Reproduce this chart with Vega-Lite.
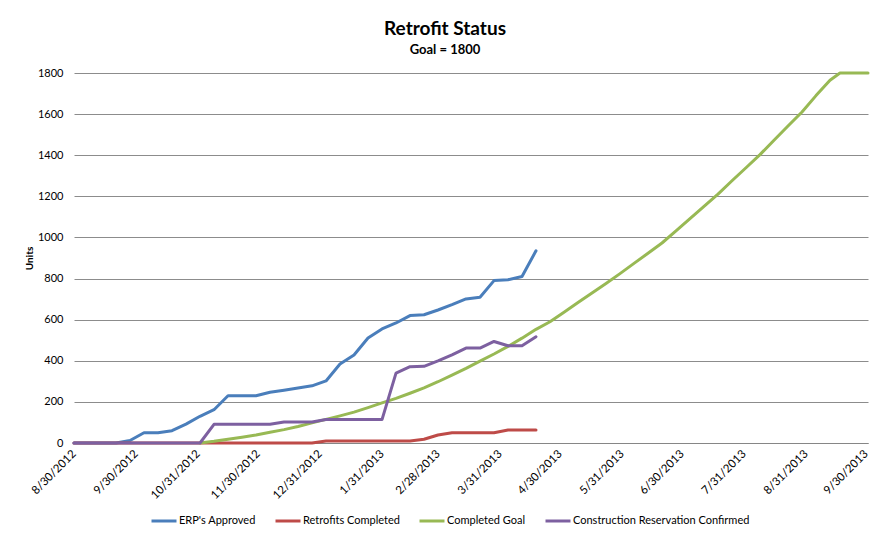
{
  "$schema": "https://vega.github.io/schema/vega-lite/v6.json",
  "width": 794,
  "height": 370,
  "autosize": {"type": "none"},
  "padding": {"left": 74, "top": 73, "right": 10, "bottom": 91},
  "background": "white",
  "title": {
    "text": "Retrofit Status",
    "subtitle": "Goal = 1800",
    "font": "Lato",
    "subtitleFont": "Lato",
    "fontSize": 19,
    "fontWeight": "bold",
    "subtitleFontSize": 13,
    "subtitleFontWeight": "bold",
    "color": "black",
    "subtitleColor": "black",
    "anchor": "middle",
    "frame": "group",
    "dx": -26,
    "offset": 10,
    "subtitlePadding": 5
  },
  "config": {
    "view": {"stroke": null},
    "font": "Lato"
  },
  "data": {
    "values": [
      {"d": "2012-08-30", "s": "ERP's Approved", "v": 0},
      {"d": "2012-09-06", "s": "ERP's Approved", "v": 0},
      {"d": "2012-09-13", "s": "ERP's Approved", "v": 0},
      {"d": "2012-09-20", "s": "ERP's Approved", "v": 0},
      {"d": "2012-09-27", "s": "ERP's Approved", "v": 12},
      {"d": "2012-10-04", "s": "ERP's Approved", "v": 50},
      {"d": "2012-10-11", "s": "ERP's Approved", "v": 50},
      {"d": "2012-10-18", "s": "ERP's Approved", "v": 60},
      {"d": "2012-10-25", "s": "ERP's Approved", "v": 92},
      {"d": "2012-11-01", "s": "ERP's Approved", "v": 130},
      {"d": "2012-11-08", "s": "ERP's Approved", "v": 162},
      {"d": "2012-11-15", "s": "ERP's Approved", "v": 230},
      {"d": "2012-11-22", "s": "ERP's Approved", "v": 230},
      {"d": "2012-11-29", "s": "ERP's Approved", "v": 230},
      {"d": "2012-12-06", "s": "ERP's Approved", "v": 247},
      {"d": "2012-12-13", "s": "ERP's Approved", "v": 257},
      {"d": "2012-12-20", "s": "ERP's Approved", "v": 268},
      {"d": "2012-12-27", "s": "ERP's Approved", "v": 278},
      {"d": "2013-01-03", "s": "ERP's Approved", "v": 302},
      {"d": "2013-01-10", "s": "ERP's Approved", "v": 384},
      {"d": "2013-01-17", "s": "ERP's Approved", "v": 428},
      {"d": "2013-01-24", "s": "ERP's Approved", "v": 511},
      {"d": "2013-01-31", "s": "ERP's Approved", "v": 555},
      {"d": "2013-02-07", "s": "ERP's Approved", "v": 584},
      {"d": "2013-02-14", "s": "ERP's Approved", "v": 620},
      {"d": "2013-02-21", "s": "ERP's Approved", "v": 624},
      {"d": "2013-02-28", "s": "ERP's Approved", "v": 647},
      {"d": "2013-03-07", "s": "ERP's Approved", "v": 673},
      {"d": "2013-03-14", "s": "ERP's Approved", "v": 701},
      {"d": "2013-03-21", "s": "ERP's Approved", "v": 709},
      {"d": "2013-03-28", "s": "ERP's Approved", "v": 790},
      {"d": "2013-04-04", "s": "ERP's Approved", "v": 794},
      {"d": "2013-04-11", "s": "ERP's Approved", "v": 810},
      {"d": "2013-04-18", "s": "ERP's Approved", "v": 935},

      {"d": "2012-08-30", "s": "Retrofits Completed", "v": 0},
      {"d": "2012-09-06", "s": "Retrofits Completed", "v": 0},
      {"d": "2012-09-13", "s": "Retrofits Completed", "v": 0},
      {"d": "2012-09-20", "s": "Retrofits Completed", "v": 0},
      {"d": "2012-09-27", "s": "Retrofits Completed", "v": 0},
      {"d": "2012-10-04", "s": "Retrofits Completed", "v": 0},
      {"d": "2012-10-11", "s": "Retrofits Completed", "v": 0},
      {"d": "2012-10-18", "s": "Retrofits Completed", "v": 0},
      {"d": "2012-10-25", "s": "Retrofits Completed", "v": 0},
      {"d": "2012-11-01", "s": "Retrofits Completed", "v": 0},
      {"d": "2012-11-08", "s": "Retrofits Completed", "v": 0},
      {"d": "2012-11-15", "s": "Retrofits Completed", "v": 0},
      {"d": "2012-11-22", "s": "Retrofits Completed", "v": 0},
      {"d": "2012-11-29", "s": "Retrofits Completed", "v": 0},
      {"d": "2012-12-06", "s": "Retrofits Completed", "v": 0},
      {"d": "2012-12-13", "s": "Retrofits Completed", "v": 0},
      {"d": "2012-12-20", "s": "Retrofits Completed", "v": 0},
      {"d": "2012-12-27", "s": "Retrofits Completed", "v": 0},
      {"d": "2013-01-03", "s": "Retrofits Completed", "v": 10},
      {"d": "2013-01-10", "s": "Retrofits Completed", "v": 10},
      {"d": "2013-01-17", "s": "Retrofits Completed", "v": 10},
      {"d": "2013-01-24", "s": "Retrofits Completed", "v": 10},
      {"d": "2013-01-31", "s": "Retrofits Completed", "v": 10},
      {"d": "2013-02-07", "s": "Retrofits Completed", "v": 10},
      {"d": "2013-02-14", "s": "Retrofits Completed", "v": 10},
      {"d": "2013-02-21", "s": "Retrofits Completed", "v": 18},
      {"d": "2013-02-28", "s": "Retrofits Completed", "v": 39},
      {"d": "2013-03-07", "s": "Retrofits Completed", "v": 50},
      {"d": "2013-03-14", "s": "Retrofits Completed", "v": 50},
      {"d": "2013-03-21", "s": "Retrofits Completed", "v": 50},
      {"d": "2013-03-28", "s": "Retrofits Completed", "v": 50},
      {"d": "2013-04-04", "s": "Retrofits Completed", "v": 63},
      {"d": "2013-04-11", "s": "Retrofits Completed", "v": 63},
      {"d": "2013-04-18", "s": "Retrofits Completed", "v": 63},

      {"d": "2012-11-01", "s": "Completed Goal", "v": 0},
      {"d": "2012-11-08", "s": "Completed Goal", "v": 8},
      {"d": "2012-11-15", "s": "Completed Goal", "v": 18},
      {"d": "2012-11-22", "s": "Completed Goal", "v": 28},
      {"d": "2012-11-29", "s": "Completed Goal", "v": 39},
      {"d": "2012-12-06", "s": "Completed Goal", "v": 52},
      {"d": "2012-12-13", "s": "Completed Goal", "v": 65},
      {"d": "2012-12-20", "s": "Completed Goal", "v": 80},
      {"d": "2012-12-27", "s": "Completed Goal", "v": 98},
      {"d": "2013-01-03", "s": "Completed Goal", "v": 115},
      {"d": "2013-01-10", "s": "Completed Goal", "v": 132},
      {"d": "2013-01-17", "s": "Completed Goal", "v": 150},
      {"d": "2013-01-24", "s": "Completed Goal", "v": 172},
      {"d": "2013-01-31", "s": "Completed Goal", "v": 195},
      {"d": "2013-02-07", "s": "Completed Goal", "v": 217},
      {"d": "2013-02-14", "s": "Completed Goal", "v": 242},
      {"d": "2013-02-21", "s": "Completed Goal", "v": 268},
      {"d": "2013-02-28", "s": "Completed Goal", "v": 298},
      {"d": "2013-03-07", "s": "Completed Goal", "v": 330},
      {"d": "2013-03-14", "s": "Completed Goal", "v": 363},
      {"d": "2013-03-21", "s": "Completed Goal", "v": 398},
      {"d": "2013-03-28", "s": "Completed Goal", "v": 433},
      {"d": "2013-04-04", "s": "Completed Goal", "v": 470},
      {"d": "2013-04-11", "s": "Completed Goal", "v": 510},
      {"d": "2013-04-18", "s": "Completed Goal", "v": 553},
      {"d": "2013-04-25", "s": "Completed Goal", "v": 590},
      {"d": "2013-05-02", "s": "Completed Goal", "v": 636},
      {"d": "2013-05-09", "s": "Completed Goal", "v": 683},
      {"d": "2013-05-16", "s": "Completed Goal", "v": 730},
      {"d": "2013-05-23", "s": "Completed Goal", "v": 776},
      {"d": "2013-05-30", "s": "Completed Goal", "v": 824},
      {"d": "2013-06-06", "s": "Completed Goal", "v": 874},
      {"d": "2013-06-13", "s": "Completed Goal", "v": 923},
      {"d": "2013-06-20", "s": "Completed Goal", "v": 973},
      {"d": "2013-06-27", "s": "Completed Goal", "v": 1032},
      {"d": "2013-07-04", "s": "Completed Goal", "v": 1092},
      {"d": "2013-07-11", "s": "Completed Goal", "v": 1151},
      {"d": "2013-07-18", "s": "Completed Goal", "v": 1211},
      {"d": "2013-07-25", "s": "Completed Goal", "v": 1276},
      {"d": "2013-08-01", "s": "Completed Goal", "v": 1339},
      {"d": "2013-08-08", "s": "Completed Goal", "v": 1403},
      {"d": "2013-08-15", "s": "Completed Goal", "v": 1473},
      {"d": "2013-08-22", "s": "Completed Goal", "v": 1542},
      {"d": "2013-08-29", "s": "Completed Goal", "v": 1610},
      {"d": "2013-09-05", "s": "Completed Goal", "v": 1690},
      {"d": "2013-09-12", "s": "Completed Goal", "v": 1765},
      {"d": "2013-09-17", "s": "Completed Goal", "v": 1800},
      {"d": "2013-09-24", "s": "Completed Goal", "v": 1800},
      {"d": "2013-10-01", "s": "Completed Goal", "v": 1800},

      {"d": "2012-08-30", "s": "Construction Reservation Confirmed", "v": 0},
      {"d": "2012-09-06", "s": "Construction Reservation Confirmed", "v": 0},
      {"d": "2012-09-13", "s": "Construction Reservation Confirmed", "v": 0},
      {"d": "2012-09-20", "s": "Construction Reservation Confirmed", "v": 0},
      {"d": "2012-09-27", "s": "Construction Reservation Confirmed", "v": 0},
      {"d": "2012-10-04", "s": "Construction Reservation Confirmed", "v": 0},
      {"d": "2012-10-11", "s": "Construction Reservation Confirmed", "v": 0},
      {"d": "2012-10-18", "s": "Construction Reservation Confirmed", "v": 0},
      {"d": "2012-10-25", "s": "Construction Reservation Confirmed", "v": 0},
      {"d": "2012-11-01", "s": "Construction Reservation Confirmed", "v": 0},
      {"d": "2012-11-08", "s": "Construction Reservation Confirmed", "v": 91},
      {"d": "2012-11-15", "s": "Construction Reservation Confirmed", "v": 91},
      {"d": "2012-11-22", "s": "Construction Reservation Confirmed", "v": 91},
      {"d": "2012-11-29", "s": "Construction Reservation Confirmed", "v": 91},
      {"d": "2012-12-06", "s": "Construction Reservation Confirmed", "v": 91},
      {"d": "2012-12-13", "s": "Construction Reservation Confirmed", "v": 102},
      {"d": "2012-12-20", "s": "Construction Reservation Confirmed", "v": 102},
      {"d": "2012-12-27", "s": "Construction Reservation Confirmed", "v": 102},
      {"d": "2013-01-03", "s": "Construction Reservation Confirmed", "v": 114},
      {"d": "2013-01-10", "s": "Construction Reservation Confirmed", "v": 114},
      {"d": "2013-01-17", "s": "Construction Reservation Confirmed", "v": 114},
      {"d": "2013-01-24", "s": "Construction Reservation Confirmed", "v": 114},
      {"d": "2013-01-31", "s": "Construction Reservation Confirmed", "v": 114},
      {"d": "2013-02-07", "s": "Construction Reservation Confirmed", "v": 340},
      {"d": "2013-02-14", "s": "Construction Reservation Confirmed", "v": 371},
      {"d": "2013-02-21", "s": "Construction Reservation Confirmed", "v": 373},
      {"d": "2013-02-28", "s": "Construction Reservation Confirmed", "v": 400},
      {"d": "2013-03-07", "s": "Construction Reservation Confirmed", "v": 429},
      {"d": "2013-03-14", "s": "Construction Reservation Confirmed", "v": 462},
      {"d": "2013-03-21", "s": "Construction Reservation Confirmed", "v": 462},
      {"d": "2013-03-28", "s": "Construction Reservation Confirmed", "v": 494},
      {"d": "2013-04-04", "s": "Construction Reservation Confirmed", "v": 473},
      {"d": "2013-04-11", "s": "Construction Reservation Confirmed", "v": 473},
      {"d": "2013-04-18", "s": "Construction Reservation Confirmed", "v": 517}
    ]
  },
  "mark": {"type": "line", "strokeWidth": 3, "strokeJoin": "round", "strokeCap": "round"},
  "encoding": {
    "x": {
      "field": "d",
      "type": "temporal",
      "scale": {
        "type": "utc",
        "domain": [
          {"year": 2012, "month": 8, "date": 30, "utc": true},
          {"year": 2013, "month": 10, "date": 1, "utc": true}
        ]
      },
      "axis": {
        "title": null,
        "values": [
          {"year": 2012, "month": 8, "date": 30, "utc": true},
          {"year": 2012, "month": 9, "date": 30, "utc": true},
          {"year": 2012, "month": 10, "date": 31, "utc": true},
          {"year": 2012, "month": 11, "date": 30, "utc": true},
          {"year": 2012, "month": 12, "date": 31, "utc": true},
          {"year": 2013, "month": 1, "date": 31, "utc": true},
          {"year": 2013, "month": 2, "date": 28, "utc": true},
          {"year": 2013, "month": 3, "date": 31, "utc": true},
          {"year": 2013, "month": 4, "date": 30, "utc": true},
          {"year": 2013, "month": 5, "date": 31, "utc": true},
          {"year": 2013, "month": 6, "date": 30, "utc": true},
          {"year": 2013, "month": 7, "date": 31, "utc": true},
          {"year": 2013, "month": 8, "date": 31, "utc": true},
          {"year": 2013, "month": 9, "date": 30, "utc": true}
        ],
        "labelExpr": "utcFormat(datum.value, '%-m/%-d/%Y')",
        "labelAngle": -45,
        "labelAlign": "right",
        "labelBaseline": "middle",
        "labelFont": "Lato",
        "labelFontSize": 11.5,
        "labelColor": "black",
        "labelPadding": 9,
        "labelOverlap": false,
        "labelBound": false,
        "labelFlush": false,
        "grid": false,
        "ticks": false,
        "domainColor": "#868686",
        "domainWidth": 1
      }
    },
    "y": {
      "field": "v",
      "type": "quantitative",
      "scale": {"domain": [0, 1800], "nice": false},
      "axis": {
        "title": "Units",
        "titleFont": "Lato",
        "titleFontSize": 10,
        "titleFontWeight": "bold",
        "titleColor": "black",
        "titlePadding": 3,
        "format": "d",
        "values": [0, 200, 400, 600, 800, 1000, 1200, 1400, 1600, 1800],
        "labelFont": "Lato",
        "labelFontSize": 11,
        "labelColor": "black",
        "labelPadding": 11,
        "domain": false,
        "ticks": false,
        "grid": true,
        "gridColor": "#8c8c8c",
        "gridWidth": 1
      }
    },
    "color": {
      "field": "s",
      "type": "nominal",
      "sort": null,
      "scale": {
        "domain": ["ERP's Approved", "Retrofits Completed", "Completed Goal", "Construction Reservation Confirmed"],
        "range": ["#4A7EBB", "#BE4B48", "#98B954", "#7D60A0"]
      },
      "legend": {
        "title": null,
        "orient": "none",
        "legendX": 76,
        "legendY": 434,
        "direction": "horizontal",
        "symbolType": "stroke",
        "symbolStrokeWidth": 3,
        "symbolSize": 625,
        "labelFont": "Lato",
        "labelFontSize": 11,
        "labelColor": "black",
        "labelLimit": 0,
        "labelOffset": 1,
        "columnPadding": 13
      }
    }
  }
}
